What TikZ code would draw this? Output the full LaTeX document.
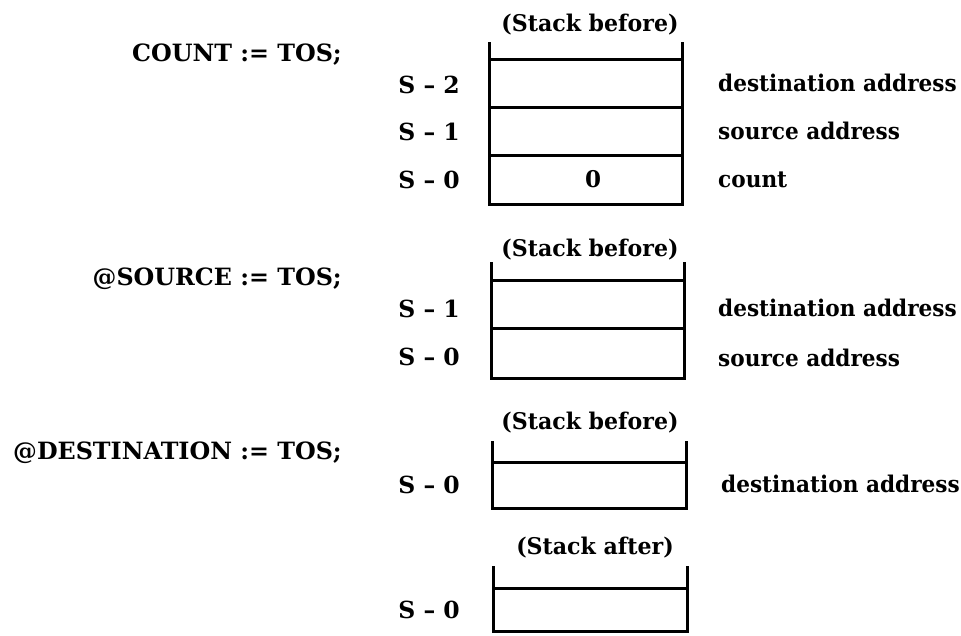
\documentclass[tikz,border=0pt]{standalone}
\usepackage{fontspec}
\setmainfont{DejaVu Serif}
\newfontfamily\descfont{DejaVu Serif}[FakeStretch=0.94]
\newfontfamily\ttlfont{DejaVu Serif}[FakeStretch=0.96]
\begin{document}
\begin{tikzpicture}[x=1pt,y=-1pt,
  txt/.style={font=\bfseries\fontsize{23}{27}\selectfont, inner sep=0pt, text height=16.5pt, text depth=0pt},
  stmt/.style={txt, font=\bfseries\fontsize{23.8}{28}\selectfont, anchor=east},
  rowl/.style={txt, font=\bfseries\fontsize{23.5}{28}\selectfont, anchor=east},
  desc/.style={txt, font=\descfont\bfseries\fontsize{23}{27}\selectfont, anchor=west},
  ttl/.style={txt, font=\ttlfont\bfseries\fontsize{23}{27}\selectfont},
  stk/.style={line width=3pt, line join=miter, line cap=rect},
]
\useasboundingbox (0,0) rectangle (961,635);

% ---------- block 1 ----------
\node[ttl] (t1) at (590,23) {(Stack before)};
\node[stmt] (c1) at (342,53) {COUNT := TOS;};
\draw[stk] (489,43) -- (489,204) -- (682,204) -- (682,43);
\draw[stk] (489,59) -- (682,59);
\draw[stk] (489,107) -- (682,107);
\draw[stk] (489,155) -- (682,155);
\node[rowl] (r12) at (460,85) {S -- 2};
\node[rowl] (r11) at (460,132) {S -- 1};
\node[rowl] (r10) at (460,180) {S -- 0};
\node[txt] (z1) at (593,179) {0};
\node[desc] (d12) at (718,83) {destination address};
\node[desc] (d11) at (718,131) {source address};
\node[desc] (d10) at (718,179) {count};

% ---------- block 2 ----------
\node[ttl] (t2) at (590,248) {(Stack before)};
\node[stmt] (c2) at (342,277) {@SOURCE := TOS;};
\draw[stk] (491,263) -- (491,378) -- (684,378) -- (684,263);
\draw[stk] (491,280) -- (684,280);
\draw[stk] (491,328) -- (684,328);
\node[rowl] (r21) at (460,309) {S -- 1};
\node[rowl] (r20) at (460,357) {S -- 0};
\node[desc] (d21) at (718,308) {destination address};
\node[desc] (d20) at (718,358) {source address};

% ---------- block 3 ----------
\node[ttl] (t3) at (590,421) {(Stack before)};
\node[stmt] (c3) at (342,451) {@DESTINATION := TOS;};
\draw[stk] (492,442) -- (492,508) -- (686,508) -- (686,442);
\draw[stk] (492,462) -- (686,462);
\node[rowl] (r30) at (460,485) {S -- 0};
\node[desc] (d30) at (721,484) {destination address};

% ---------- block 4 ----------
\node[ttl] (t4) at (595,546) {(Stack after)};
\draw[stk] (493,567) -- (493,631) -- (687,631) -- (687,567);
\draw[stk] (493,588) -- (687,588);
\node[rowl] (r40) at (460,610) {S -- 0};
\end{tikzpicture}
\end{document}
